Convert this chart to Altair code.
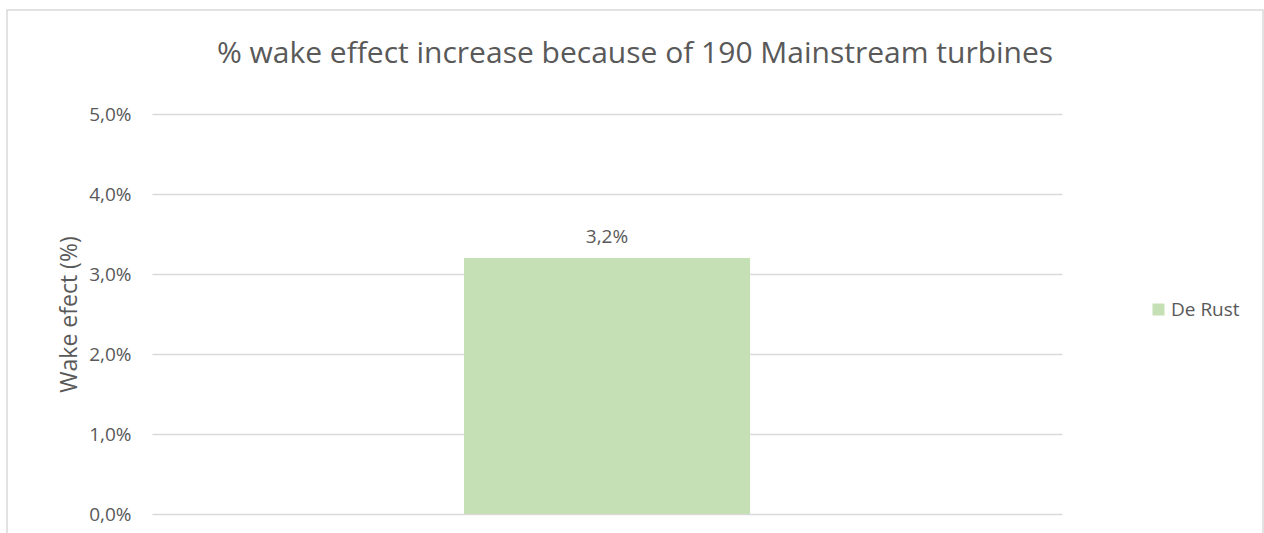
import altair as alt
import pandas as pd

series = ["De Rust"]
values = [0.032]
y_ticks = [0, 0.01, 0.02, 0.03, 0.04, 0.05]

df = pd.DataFrame({"series": series, "value": values})

FONT = "Open Sans"
TXT = "#595959"
GRID = "#d9d9d9"
BAR = "#c5e0b4"

base = alt.Chart(df)

bars = base.mark_bar(color=BAR).encode(
    x=alt.X("series:N", axis=None,
            scale=alt.Scale(paddingInner=0.0833, paddingOuter=1)),
    y=alt.Y("value:Q",
            scale=alt.Scale(domain=[0, 0.05], nice=False),
            axis=alt.Axis(values=y_ticks,
                          labelExpr="replace(format(datum.value, '.1%'), '.', ',')",
                          title="Wake efect (%)",
                          grid=True, gridColor=GRID, gridWidth=1.5,
                          domain=False, ticks=False,
                          labelPadding=21, labelFontSize=19, labelColor=TXT,
                          labelFont=FONT,
                          titleFont=FONT, titleFontSize=23, titleColor=TXT,
                          titleFontWeight="normal", titlePadding=7)),
    color=alt.Color("series:N",
                    scale=alt.Scale(domain=series, range=[BAR]),
                    legend=alt.Legend(title=None, orient="none",
                                      legendX=997, legendY=186,
                                      symbolType="square", symbolSize=144,
                                      symbolStrokeWidth=0,
                                      labelFont=FONT, labelFontSize=19,
                                      labelColor=TXT, labelOffset=3)),
)

labels = base.mark_text(font=FONT, fontSize=19, color=TXT,
                        baseline="alphabetic", dy=-15).transform_calculate(
    label="replace(format(datum.value, '.1%'), '.', ',')"
).encode(
    x=alt.X("series:N"),
    y=alt.Y("value:Q"),
    text="label:N",
)

border = alt.Chart(alt.Data(values=[{}])).mark_rect(
    fill=None, stroke=GRID, strokeWidth=1.5, clip=False
).encode(
    x=alt.value(-145), x2=alt.value(1111),
    y=alt.value(-104), y2=alt.value(440),
)

chart = alt.layer(border, bars, labels).properties(
    width=910, height=400,
    title=alt.TitleParams("% wake effect increase because of 190 Mainstream turbines",
                          font=FONT, fontSize=30, fontWeight="normal", color=TXT,
                          anchor="middle", frame="group", dx=28, offset=-60),
    padding={"left": 152, "top": 114, "right": 202, "bottom": 19},
    autosize=alt.AutoSizeParams(type="none"),
).configure_view(stroke=None)

chart.save("out.html", embed_options={"renderer": "svg", "actions": False})
